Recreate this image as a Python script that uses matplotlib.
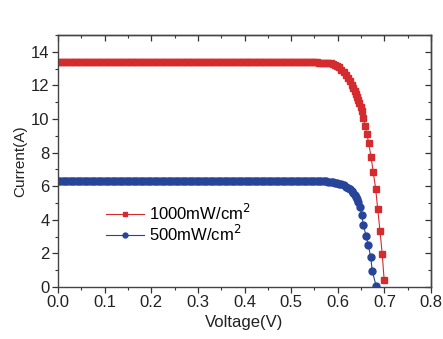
import matplotlib
matplotlib.use("Agg")
import matplotlib.pyplot as plt
from matplotlib.ticker import MultipleLocator

# flat part of both curves, sampled densely (the markers merge into a band)
v_flat = [0.000, 0.005, 0.010, 0.015, 0.020, 0.025, 0.030, 0.035, 0.040, 0.045,
          0.050, 0.055, 0.060, 0.065, 0.070, 0.075, 0.080, 0.085, 0.090, 0.095,
          0.100, 0.105, 0.110, 0.115, 0.120, 0.125, 0.130, 0.135, 0.140, 0.145,
          0.150, 0.155, 0.160, 0.165, 0.170, 0.175, 0.180, 0.185, 0.190, 0.195,
          0.200, 0.205, 0.210, 0.215, 0.220, 0.225, 0.230, 0.235, 0.240, 0.245,
          0.250, 0.255, 0.260, 0.265, 0.270, 0.275, 0.280, 0.285, 0.290, 0.295,
          0.300, 0.305, 0.310, 0.315, 0.320, 0.325, 0.330, 0.335, 0.340, 0.345,
          0.350, 0.355, 0.360, 0.365, 0.370, 0.375, 0.380, 0.385, 0.390, 0.395,
          0.400, 0.405, 0.410, 0.415, 0.420, 0.425, 0.430, 0.435, 0.440, 0.445,
          0.450, 0.455, 0.460, 0.465, 0.470, 0.475, 0.480, 0.485, 0.490, 0.495,
          0.500, 0.505, 0.510, 0.515, 0.520, 0.525, 0.530, 0.535, 0.540, 0.545]
i_flat_1000 = 13.38
i_flat_500 = 6.32

# knee and steep part, 1000 mW/cm2
v_1000 = [0.550, 0.555, 0.560, 0.565, 0.570, 0.575, 0.580, 0.585, 0.590, 0.594,
          0.598, 0.603, 0.608, 0.613, 0.618, 0.622, 0.626, 0.630, 0.633,
          0.636, 0.639, 0.6415, 0.644, 0.6465, 0.649, 0.6515, 0.6549, 0.6585, 0.6625,
          0.6665, 0.6713, 0.6762, 0.6814, 0.6857, 0.6906, 0.6953, 0.6995]
i_1000 = [13.37, 13.37, 13.36, 13.36, 13.35, 13.34, 13.33, 13.31, 13.28, 13.24,
          13.17, 13.07, 12.94, 12.80, 12.63, 12.45, 12.25, 12.04, 11.85,
          11.67, 11.48, 11.30, 11.12, 10.93, 10.74, 10.45, 10.05, 9.60, 9.10,
          8.55, 7.76, 6.84, 5.83, 4.63, 3.35, 1.98, 0.43]

# knee and steep part, 500 mW/cm2
v_500 = [0.550, 0.555, 0.560, 0.565, 0.570, 0.575, 0.580, 0.585, 0.590, 0.594,
         0.598, 0.603, 0.608, 0.613, 0.618, 0.622, 0.626, 0.630, 0.633,
         0.636, 0.639, 0.6415, 0.644, 0.6477, 0.6513, 0.6549, 0.6606, 0.6656, 0.6707,
         0.674, 0.6825]
i_500 = [6.31, 6.31, 6.30, 6.30, 6.29, 6.28, 6.27, 6.26, 6.24, 6.22,
         6.20, 6.16, 6.11, 6.05, 5.98, 5.91, 5.82, 5.72, 5.62,
         5.50, 5.37, 5.22, 5.05, 4.75, 4.30, 3.70, 3.06, 2.48, 1.78,
         0.96, 0.04]

RED = "#d42b2e"
BLUE = "#27449a"

plt.rcParams["font.family"] = ["Liberation Sans", "DejaVu Sans"]

fig = plt.figure(figsize=(4.43, 3.39), dpi=100)
ax = fig.add_axes([58 / 443, 52 / 339, 373 / 443, 252 / 339])

x_red = v_flat + v_1000
y_red = [i_flat_1000 for _ in v_flat] + i_1000
x_blue = v_flat + v_500
y_blue = [i_flat_500 for _ in v_flat] + i_500

ax.plot(x_red, y_red, color=RED, lw=0.8, marker="s", ms=4.6, mec=RED,
        mfc=RED, label="1000mW/cm$^2$")
ax.plot(x_blue, y_blue, color=BLUE, lw=0.8, marker="o", ms=5.0, mec=BLUE,
        mfc=BLUE, label="500mW/cm$^2$")

ax.set_xlim(0.0, 0.8)
ax.set_ylim(0, 15)
ax.xaxis.set_major_locator(MultipleLocator(0.1))
ax.xaxis.set_minor_locator(MultipleLocator(0.05))
ax.yaxis.set_major_locator(MultipleLocator(2))
ax.yaxis.set_minor_locator(MultipleLocator(1))
ax.set_xticks([0.0, 0.1, 0.2, 0.3, 0.4, 0.5, 0.6, 0.7, 0.8])
ax.set_xticklabels(["0.0", "0.1", "0.2", "0.3", "0.4", "0.5", "0.6", "0.7", "0.8"])

ax.tick_params(which="both", direction="out", labelsize=12, colors="#333333",
               labelcolor="#222222")
ax.tick_params(which="major", length=4, width=0.9, pad=2)
ax.tick_params(which="minor", length=2.2, width=0.8)

# mirrored inward ticks on top and right
sec_x = ax.secondary_xaxis("top")
sec_x.xaxis.set_major_locator(MultipleLocator(0.1))
sec_x.xaxis.set_minor_locator(MultipleLocator(0.05))
sec_x.tick_params(which="both", direction="in", labeltop=False, colors="#333333")
sec_x.tick_params(which="major", length=4, width=0.9)
sec_x.tick_params(which="minor", length=2.2, width=0.8)
sec_y = ax.secondary_yaxis("right")
sec_y.yaxis.set_major_locator(MultipleLocator(2))
sec_y.yaxis.set_minor_locator(MultipleLocator(1))
sec_y.tick_params(which="both", direction="in", labelright=False, colors="#333333")
sec_y.tick_params(which="major", length=4, width=0.9)
sec_y.tick_params(which="minor", length=2.2, width=0.8)
for a in (ax, sec_x, sec_y):
    for s in a.spines.values():
        s.set_color("#444444")
        s.set_linewidth(1.0)

ax.set_xlabel("Voltage(V)", fontsize=12, labelpad=3, color="#222222")
ax.set_ylabel("Current(A)", fontsize=11, labelpad=3, color="#222222")

leg = ax.legend(loc="upper left", bbox_to_anchor=(0.11, 0.36), frameon=False,
                fontsize=12, handlelength=2.3, handletextpad=0.3,
                labelspacing=0.05, markerscale=0.7, borderaxespad=0)

fig.savefig("out.png", dpi=100)
